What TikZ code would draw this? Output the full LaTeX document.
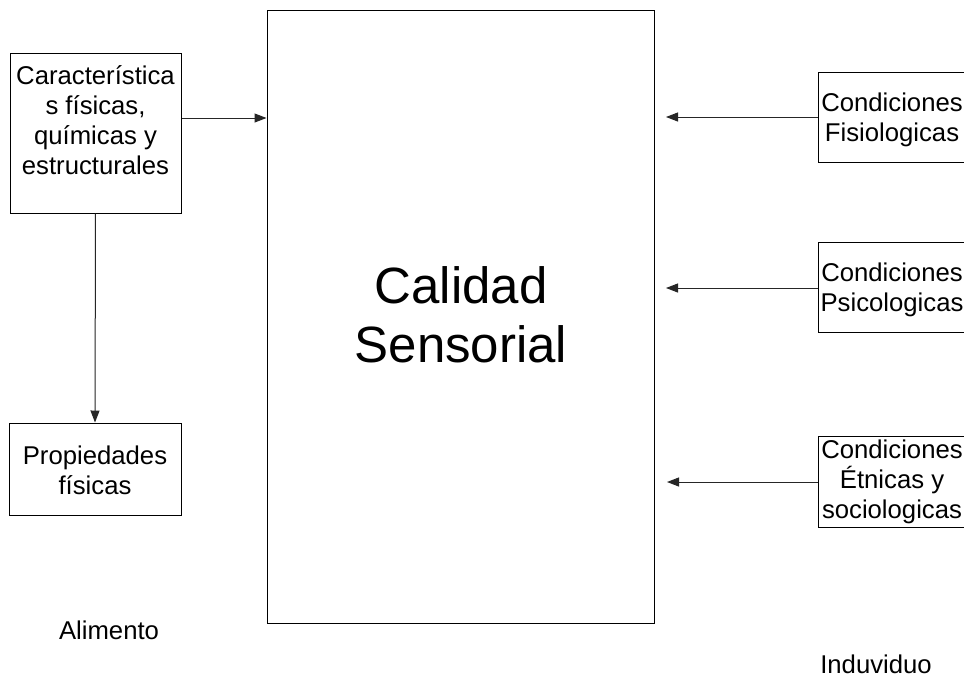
\documentclass[tikz,border=0pt]{standalone}
\usepackage{fontspec}
\setmainfont{Liberation Sans}
\usetikzlibrary{arrows.meta}
\tikzset{
  box/.style={draw=black, line width=1pt, inner sep=0pt},
  txt/.style={align=center, inner sep=0pt, font=\fontsize{25.7}{30}\selectfont},
  bigtxt/.style={align=center, inner sep=0pt, font=\fontsize{51}{59}\selectfont},
  conn/.style={draw=black!85, line width=1pt, -{Triangle[length=12pt,width=9pt]}}
}
\begin{document}
\begin{tikzpicture}[x=1pt, y=-1pt]
\clip (0,0) rectangle (964,678);
\fill[white] (0,0) rectangle (964,678);

% central block
\node[box, minimum width=387pt, minimum height=613pt] (cal) at (460.5,316.5) {};
\node[bigtxt] (calt) at (461,315) {Calidad\\Sensorial};

% food side
\node[box, minimum width=171pt, minimum height=160pt] (car) at (95.5,133) {};
\node[txt] (cart) at (95.5,120) {Característica\\s físicas,\\químicas y\\estructurales};
\node[box, minimum width=172pt, minimum height=92pt] (pro) at (95,469) {};
\node[txt] (prot) at (95,470) {Propiedades\\físicas};
\node[txt] (ali) at (109,630) {Alimento};

% subject side (boxes run past the right edge)
\node[box, minimum width=148pt, minimum height=90pt] (fis) at (892,117) {};
\node[txt] (fist) at (892,120) {Condiciones\\Fisiologicas};
\node[box, minimum width=148pt, minimum height=90pt] (psi) at (892,287) {};
\node[txt] (psit) at (892,290) {Condiciones\\Psicologicas};
\node[box, minimum width=148pt, minimum height=91pt] (etn) at (892,481.5) {};
\node[txt] (etnt) at (892,482) {Condiciones\\Étnicas y\\sociologicas};
\node[txt] (ind) at (876,664) {Induviduo};

% arrow end points inside the central block
\coordinate (e1) at (666,117);
\coordinate (e2) at (666,288);
\coordinate (e3) at (667,482);

\draw[conn] (car.east |- 0,118) -- (cal.west |- 0,118);
\draw[conn] (car.south) -- (pro.north);
\draw[conn] (fis.west) -- (e1);
\draw[conn] (psi.west |- e2) -- (e2);
\draw[conn] (etn.west |- e3) -- (e3);
\end{tikzpicture}
\end{document}
